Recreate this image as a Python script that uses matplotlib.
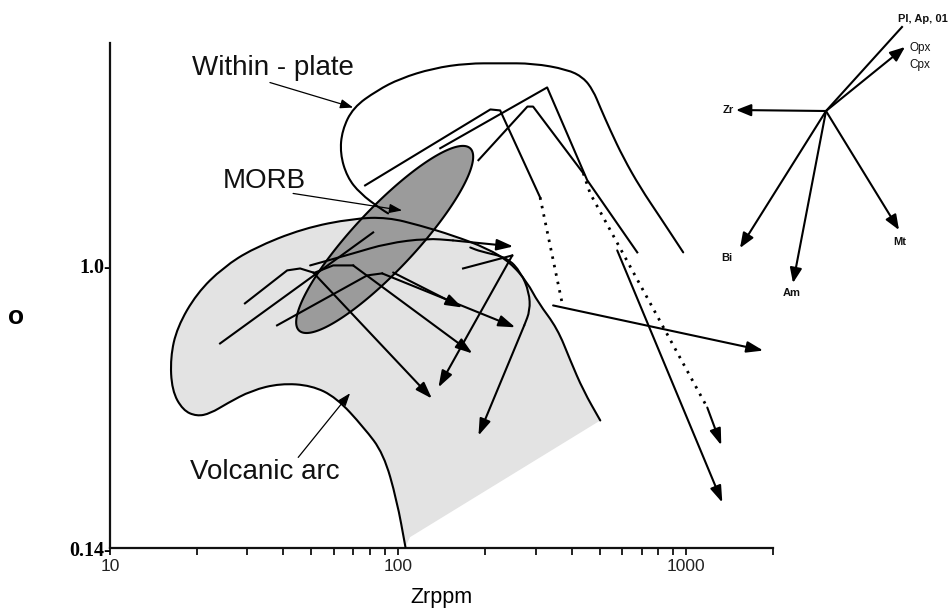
import numpy as np
import matplotlib
matplotlib.use("Agg")
import matplotlib.pyplot as plt
from matplotlib.patches import Polygon, PathPatch
from matplotlib.path import Path
from matplotlib.ticker import FixedLocator, NullLocator, NullFormatter

plt.rcParams['font.family'] = ['Liberation Sans', 'DejaVu Sans']

# ---------------- data (Zr ppm, ratio) ----------------
# Volcanic arc field boundary
va_zr = [106, 99, 89, 76, 61, 50, 39, 31, 25.5, 22.3, 20, 17.9, 16.4, 16.2, 17.1,
         20, 24.7, 31.4, 46.8, 70, 92, 119, 155, 204, 245, 281, 306, 357, 396, 439, 503]
va_ratio = [0.141, 0.195, 0.270, 0.324, 0.399, 0.434, 0.440, 0.419, 0.383, 0.357, 0.350,
            0.365, 0.419, 0.527, 0.650, 0.823, 0.986, 1.126, 1.294, 1.387, 1.397, 1.321,
            1.232, 1.126, 1.021, 0.888, 0.773, 0.645, 0.516, 0.419, 0.340]
# closing corner of the shaded arc area
va_fill_zr = [110]
va_fill_ratio = [0.151]

# Within-plate field boundary
wp_zr = [92.3, 86.6, 73.8, 66.5, 62.9, 63.9, 69.8, 84.6, 101.6, 132, 174, 226, 294,
         386, 439, 475, 503, 545, 604, 692, 812, 976]
wp_ratio = [1.436, 1.487, 1.65, 1.85, 2.18, 2.56, 3.00, 3.38, 3.67, 3.94, 4.08, 4.08,
            4.08, 3.91, 3.70, 3.38, 3.00, 2.56, 2.12, 1.72, 1.397, 1.095]

# MORB field (ellipse centre)
morb_zr = 89.8
morb_ratio = 1.198

# Trends in the volcanic-arc field (last segment = arrow); flag: smooth curve
arc_trends = [
    ([49.5, 69.8, 91.6, 126, 155, 251], [1.0, 1.087, 1.166, 1.207, 1.19, 1.141], True, True),
    ([29.4, 41.2, 45.7, 50.7, 131], [0.768, 0.966, 0.979, 0.952, 0.396], True, False),
    ([24.1, 81.9], [0.581, 1.258], False, False),
    ([51.5, 59.5, 69.8, 181], [0.952, 1.0, 1.0, 0.542], True, False),
    ([38.0, 78.1, 88.0, 255], [0.659, 0.933, 0.946, 0.650], True, False),
    ([96.1, 167], [0.952, 0.746], True, False),
    ([168, 249, 138], [0.979, 1.072, 0.428], True, False),
    ([178, 193, 239, 267, 285, 287, 274, 190],
     [1.133, 1.102, 1.057, 0.952, 0.829, 0.731, 0.659, 0.306], True, True),
]

# Trends in the within-plate field
wp_trends_solid = [
    ([76.8, 209, 226, 311], [1.745, 2.96, 2.94, 1.605], False),
    ([140, 329, 453, 676], [2.26, 3.45, 1.81, 1.095], False),
    ([190, 281, 294, 439], [2.08, 3.02, 3.02, 1.90], False),
    ([345, 1851], [0.757, 0.553], True),
    ([576, 1334], [1.110, 0.192], True),
    ([1183, 1323], [0.372, 0.286], True),
]
wp_trends_dotted = [
    ([311, 371], [1.605, 0.768]),
    ([439, 464, 1183], [1.90, 1.65, 0.372]),
]

# Mineral vectors (screen offsets of the vector diagram)
vec_names = ['Zr', 'Opx', 'Bi', 'Am', 'Mt', 'Pl, Ap, 01']
vec_dx = [-90, 79, -86, -33, 73, 76]
vec_dy = [-1, -64, 137, 172, 119, -84]

x_major = [10, 100, 1000]
x_minor = [20, 30, 40, 50, 60, 70, 80, 90, 200, 300, 400, 500, 600, 700, 800, 900, 2000]
y_ticks = [0.14, 1.0]
y_ticklabels = ['0.14-', '1.0-']

# ---------------- figure ----------------
fig = plt.figure(figsize=(9.5, 6.14), dpi=100)
ax = fig.add_axes([110/950, 66/614, 663/950, 505/614])
ax.set_xscale('log')
ax.set_yscale('log')
ax.set_xlim(10, 2000)
ax.set_ylim(0.14, 4.7)
ax.patch.set_alpha(0)

for s in ['top', 'right']:
    ax.spines[s].set_visible(False)
for s in ['left', 'bottom']:
    ax.spines[s].set_linewidth(1.6)
    ax.spines[s].set_color('#111111')

ax.xaxis.set_major_locator(FixedLocator(x_major))
ax.xaxis.set_minor_locator(FixedLocator(x_minor))
ax.xaxis.set_minor_formatter(NullFormatter())
ax.set_xticklabels([str(v) for v in x_major])
ax.tick_params(axis='x', which='both', direction='out', length=5, width=1.3,
               color='#111111', labelsize=12.5, pad=3, labelcolor='#222222')

ax.yaxis.set_major_locator(FixedLocator(y_ticks))
ax.yaxis.set_minor_locator(NullLocator())
ax.set_yticklabels(y_ticklabels)
ax.tick_params(axis='y', which='both', length=0, pad=-1)
for lab in ax.get_yticklabels():
    lab.set_fontfamily(['Liberation Serif', 'DejaVu Serif'])
    lab.set_fontweight('bold')
    lab.set_fontsize(14.5)
    if lab.get_text() == '1.0-':
        lab.set_bbox(dict(facecolor='white', edgecolor='none', pad=2.5))

ax.set_xlabel('Zrppm', fontsize=15.5, labelpad=9)
fig.text(16/950, 1 - 317/614, 'o', fontsize=19, fontweight='bold', ha='center', va='center')

LW = 1.5
arrow_kw = dict(arrowstyle='-|>,head_length=0.5,head_width=0.17', lw=LW, color='k',
                shrinkA=0, shrinkB=0, mutation_scale=20)


def smooth_parts(zr, r):
    """Quadratic-Bezier vertices/codes using the read points as control points."""
    p = np.column_stack([zr, r]).astype(float)
    mids = np.sqrt(p[:-1] * p[1:])
    verts = [p[0], mids[0]]
    codes = [Path.MOVETO, Path.LINETO]
    for i in range(1, len(p) - 1):
        verts += [p[i], mids[i]]
        codes += [Path.CURVE3, Path.CURVE3]
    verts.append(p[-1])
    codes.append(Path.LINETO)
    return verts, codes


def smooth_line(zr, r, z=3, lw=LW):
    v, c = smooth_parts(zr, r)
    ax.add_patch(PathPatch(Path(np.array(v), c), facecolor='none', edgecolor='k',
                           lw=lw, zorder=z, capstyle='round', joinstyle='round'))


# Volcanic arc shaded field: smooth outline closed by straight edges
fv, fc = smooth_parts(va_zr, va_ratio)
for zx, ry in zip(va_fill_zr, va_fill_ratio):
    fv.append(np.array([zx, ry]))
    fc.append(Path.LINETO)
fv.append(fv[0])
fc.append(Path.CLOSEPOLY)
ax.add_patch(PathPatch(Path(np.array(fv), fc), facecolor='#e3e3e3', edgecolor='none', zorder=1))
smooth_line(va_zr, va_ratio)

# MORB ellipse (built in display space so it appears as an ellipse)
cx, cy = ax.transData.transform((morb_zr, morb_ratio))
t = np.linspace(0, 2 * np.pi, 240)
sc = fig.dpi / 100
a_, b_, ang = 125 * sc, 31 * sc, np.deg2rad(46.8)
ex = cx + a_ * np.cos(t) * np.cos(ang) - b_ * np.sin(t) * np.sin(ang)
ey = cy + a_ * np.cos(t) * np.sin(ang) + b_ * np.sin(t) * np.cos(ang)
epts = ax.transData.inverted().transform(np.column_stack([ex, ey]))
ax.add_patch(Polygon(epts, closed=True, facecolor='#9b9b9b', edgecolor='k', lw=LW, zorder=2))

# Within-plate boundary
smooth_line(wp_zr, wp_ratio)


def draw(zr, r, arrow, smooth=False, ls='-'):
    body_zr, body_r = (zr[:-1], r[:-1]) if arrow else (zr, r)
    if len(body_zr) > 1:
        if smooth and len(body_zr) > 2:
            smooth_line(body_zr, body_r, z=4)
        else:
            ax.plot(body_zr, body_r, color='k', lw=LW, ls=ls, zorder=4)
    if arrow:
        ax.annotate('', xy=(zr[-1], r[-1]), xytext=(zr[-2], r[-2]),
                    arrowprops=arrow_kw, zorder=4, annotation_clip=False)


for zr, r, arr, sm in arc_trends:
    draw(zr, r, arr, sm)
for zr, r, arr in wp_trends_solid:
    draw(zr, r, arr)
for zr, r in wp_trends_dotted:
    ax.plot(zr, r, color='k', lw=2.0, ls=(0, (0.9, 2.2)), zorder=4)

# Field labels with pointer arrows
lab_kw = dict(fontsize=20, ha='center', va='center', color='#111111')
thin = dict(arrowstyle='-|>,head_length=0.55,head_width=0.2', lw=0.9, color='k',
            shrinkA=0, shrinkB=0, mutation_scale=14)
ax.text(36.8, 3.96, 'Within - plate', **lab_kw)
ax.annotate('', xy=(69.8, 3.00), xytext=(35.9, 3.57), arrowprops=thin)
ax.text(34.2, 1.794, 'MORB', **lab_kw)
ax.annotate('', xy=(103.2, 1.466), xytext=(43.2, 1.65), arrowprops=thin)
ax.text(34.5, 0.238, 'Volcanic arc', **lab_kw)
ax.annotate('', xy=(68.1, 0.411), xytext=(45.0, 0.263), arrowprops=thin)

# ---------------- vector diagram ----------------
ov = fig.add_axes([0, 0, 1, 1])
ov.set_xlim(0, 950)
ov.set_ylim(614, 0)
ov.axis('off')
ov.patch.set_alpha(0)
ox, oy = 826, 111
vec_kw = dict(arrowstyle='-|>,head_length=0.5,head_width=0.2', lw=1.5, color='k',
              shrinkA=0, shrinkB=0, mutation_scale=18)
for name, dx, dy in zip(vec_names, vec_dx, vec_dy):
    if name.startswith('Pl'):
        ov.plot([ox, ox + dx], [oy, oy + dy], color='k', lw=1.5)
    else:
        ov.annotate('', xy=(ox + dx, oy + dy), xytext=(ox, oy), arrowprops=vec_kw)

vk = dict(fontsize=8, fontweight='bold', color='#111111', va='center')
ov.text(ox + vec_dx[0] - 2, oy + vec_dy[0], 'Zr', ha='right', **vk)
ov.text(909, 48, 'Opx', ha='left', fontsize=8.5, color='#111111', va='center')
ov.text(909, 65, 'Cpx', ha='left', fontsize=8.5, color='#111111', va='center')
ov.text(ox + vec_dx[2] - 13, oy + vec_dy[2] + 10, 'Bi', ha='center', **vk)
ov.text(ox + vec_dx[3] - 1, oy + vec_dy[3] + 10, 'Am', ha='center', **vk)
ov.text(ox + vec_dx[4] + 1, oy + vec_dy[4] + 12, 'Mt', ha='center', **vk)
ov.text(948, 19, 'Pl, Ap, 01', ha='right', **vk)

fig.savefig('out.png', dpi=100)
